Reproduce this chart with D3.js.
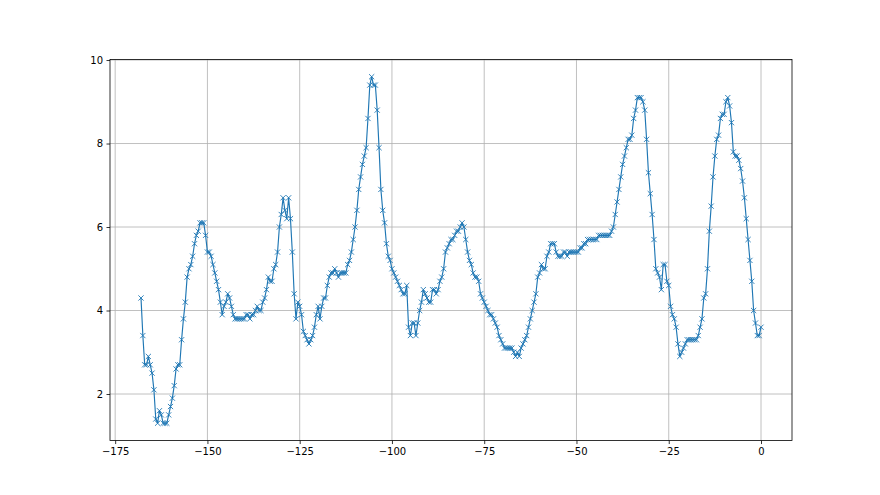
<!DOCTYPE html>
<html>
<head>
<meta charset="utf-8">
<script src="https://cdn.jsdelivr.net/npm/d3@7"></script>
<style>
  body { margin: 0; background: #fff; }
  svg { display: block; font-family: "DejaVu Sans", sans-serif; }
</style>
</head>
<body>
<svg id="chart"></svg>
<script>
// x runs from -168 to 0 in steps of 0.5
const xStart = -168;
const xStep = 0.5;

// y values, one per step
const values = [
  // -168 .. -150
  4.3,3.4,2.7,2.7,2.9,2.7,2.5,2.1,1.4,1.3,
  1.6,1.5,1.3,1.3,1.3,1.5,1.7,1.9,2.2,2.6,
  2.7,2.7,3.3,3.8,4.2,4.8,5.0,5.1,5.3,5.6,
  5.8,5.9,6.1,6.1,6.1,5.8,5.4,
  // -149.5 .. -133
  5.4,5.3,5.1,4.9,4.7,4.5,4.2,3.9,4.1,4.2,
  4.4,4.3,4.1,3.9,3.8,3.8,3.8,3.8,3.8,3.8,
  3.9,3.9,3.8,3.9,3.9,4.0,4.1,4.0,4.0,4.2,
  4.3,4.5,4.8,4.7,
  // -132.5 .. -114
  4.7,5.0,5.1,5.4,6.0,6.3,6.7,6.4,6.2,6.7,
  6.2,5.4,4.4,3.8,4.2,4.1,3.9,3.5,3.4,3.3,
  3.2,3.3,3.4,3.6,3.9,4.1,3.8,4.1,4.3,4.3,
  4.6,4.8,4.9,4.9,5.0,4.9,4.8,4.9,
  // -113.5 .. -98.5
  4.9,4.9,4.9,5.1,5.2,5.4,5.7,6.0,6.4,6.9,
  7.2,7.5,7.7,7.9,8.6,9.4,9.6,9.4,9.4,8.8,
  7.9,6.9,6.4,6.1,5.6,5.3,5.2,5.0,4.9,4.8,
  4.7,
  // -98 .. -80
  4.6,4.5,4.4,4.4,4.6,3.6,3.4,3.7,3.7,3.4,
  3.7,4.0,4.2,4.5,4.4,4.3,4.2,4.2,4.5,4.5,
  4.4,4.5,4.7,4.8,5.0,5.4,5.5,5.6,5.7,5.7,
  5.8,5.9,5.9,6.0,6.1,6.0,5.7,
  // -79.5 .. -60.5
  5.4,5.2,5.1,4.9,4.8,4.8,4.7,4.4,4.3,4.2,
  4.1,4.0,3.9,3.9,3.8,3.7,3.6,3.4,3.3,3.2,
  3.1,3.1,3.1,3.1,3.1,3.0,2.9,3.0,2.9,3.1,
  3.2,3.3,3.4,3.6,3.8,4.0,4.2,4.4,4.8,
  // -60 .. -44
  4.9,5.1,5.0,5.0,5.3,5.4,5.6,5.6,5.6,5.4,
  5.3,5.3,5.3,5.4,5.4,5.3,5.4,5.4,5.4,5.4,
  5.4,5.4,5.5,5.5,5.6,5.6,5.7,5.7,5.7,5.7,
  5.7,5.7,5.8,
  // -43.5 .. -26
  5.8,5.8,5.8,5.8,5.8,5.8,5.9,6.0,6.3,6.6,
  6.9,7.2,7.5,7.7,7.9,8.1,8.1,8.2,8.6,8.8,
  9.1,9.1,9.1,9.0,8.8,8.1,7.3,6.8,6.3,5.7,
  5.0,4.9,4.8,4.5,5.1,5.1,
  // -25.5 .. 0
  4.7,4.6,4.1,3.9,3.8,3.6,3.2,2.9,3.0,3.1,
  3.2,3.3,3.3,3.3,3.3,3.3,3.3,3.4,3.6,3.8,
  4.3,4.4,5.0,5.9,6.5,7.2,7.7,8.1,8.2,8.6,
  8.7,8.7,9.0,9.1,8.9,8.5,7.8,7.7,7.7,7.6,
  7.4,7.1,6.7,6.2,5.7,5.2,4.7,4.0,3.7,3.4,
  3.4,3.6
];

const xTicks = [-175, -150, -125, -100, -75, -50, -25, 0];
const yTicks = [2, 4, 6, 8, 10];

const width = 880, height = 495;
const margin = { top: 59.4, right: 88, bottom: 54.45, left: 110 };
const color = "#1f77b4";

const data = values.map((v, i) => ({ x: xStart + i * xStep, y: v }));

const svg = d3.select("#chart")
  .attr("width", width)
  .attr("height", height);

// matplotlib style 5% padding around the data
const xMin = d3.min(data, d => d.x), xMax = d3.max(data, d => d.x);
const yMin = d3.min(data, d => d.y), yMax = d3.max(data, d => d.y);
const xPad = (xMax - xMin) * 0.05, yPad = (yMax - yMin) * 0.05;

const x = d3.scaleLinear()
  .domain([xMin - xPad, xMax + xPad])
  .range([margin.left, width - margin.right]);
const y = d3.scaleLinear()
  .domain([yMin - yPad, yMax + yPad])
  .range([height - margin.bottom, margin.top]);

// grid
const grid = svg.append("g");
grid.selectAll("line.gx")
  .data(xTicks)
  .enter().append("line")
  .attr("x1", d => x(d)).attr("x2", d => x(d))
  .attr("y1", y.range()[0]).attr("y2", y.range()[1])
  .attr("stroke", "#b0b0b0").attr("stroke-width", 0.8);
grid.selectAll("line.gy")
  .data(yTicks)
  .enter().append("line")
  .attr("x1", x.range()[0]).attr("x2", x.range()[1])
  .attr("y1", d => y(d)).attr("y2", d => y(d))
  .attr("stroke", "#b0b0b0").attr("stroke-width", 0.8);

// line
const line = d3.line().x(d => x(d.x)).y(d => y(d.y));
svg.append("path")
  .datum(data)
  .attr("d", line)
  .attr("fill", "none")
  .attr("stroke", color)
  .attr("stroke-width", 1.15)
  .attr("stroke-linejoin", "round");

// x markers
svg.append("g")
  .selectAll("path")
  .data(data)
  .enter().append("path")
  .attr("transform", d => "translate(" + x(d.x) + "," + y(d.y) + ")")
  .attr("d", "M-2.6,-2.6L2.6,2.6M-2.6,2.6L2.6,-2.6")
  .attr("stroke", color)
  .attr("stroke-width", 0.9);

// axes
const xAxis = svg.append("g")
  .attr("transform", "translate(0," + y.range()[0] + ")")
  .call(d3.axisBottom(x).tickValues(xTicks).tickSize(3.5).tickPadding(3.5));
const yAxis = svg.append("g")
  .attr("transform", "translate(" + x.range()[0] + ",0)")
  .call(d3.axisLeft(y).tickValues(yTicks).tickSize(3.5).tickPadding(3.5));

[xAxis, yAxis].forEach(a => {
  a.select(".domain").remove();
  a.selectAll(".tick line").attr("stroke", "#000").attr("stroke-width", 0.8);
  a.selectAll(".tick text")
    .attr("fill", "#000")
    .style("font-family", "'DejaVu Sans', sans-serif")
    .style("font-size", "10px");
});

// spines
svg.append("rect")
  .attr("x", x.range()[0])
  .attr("y", y.range()[1])
  .attr("width", x.range()[1] - x.range()[0])
  .attr("height", y.range()[0] - y.range()[1])
  .attr("fill", "none")
  .attr("stroke", "#000")
  .attr("stroke-width", 0.8);
</script>
</body>
</html>
